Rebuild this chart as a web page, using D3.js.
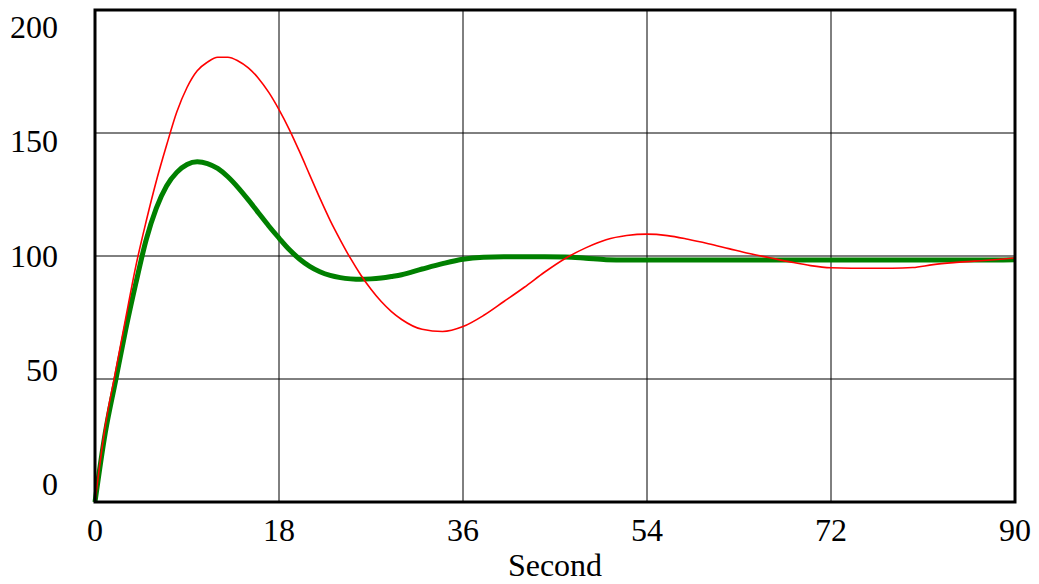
<!DOCTYPE html>
<html>
<head>
<meta charset="utf-8">
<script src="https://cdn.jsdelivr.net/npm/d3@7"></script>
<style>
    body { margin: 0; background: #fff; }
    text { font-family: "Liberation Serif", "Times New Roman", serif; font-size: 32px; fill: #000; }
</style>
</head>
<body>
<div id="chart"></div>
<script>
// Time points (seconds) shared by both runs
const times = [0, 1, 2, 3, 4, 5, 6, 7, 8, 9, 10, 11, 12, 13, 14, 15, 16, 17, 18, 19,
    20, 21, 22, 23, 24, 25, 26, 27, 28, 29, 30, 32, 34, 36, 38, 40, 42, 44, 46, 48,
    50, 52, 54, 56, 58, 60, 62, 64, 66, 68, 70, 72, 74, 76, 78, 80, 82, 84, 86, 88, 90];

// Red run: large overshoot, slow settle
const redValues = [0, 30.8, 52.8, 74.6, 96, 114, 130.5, 145, 158.5, 168.5, 175.3, 178.8, 180.8, 180.8, 179.3, 176.5, 172.2, 166.5, 159.5, 151.5,
    142.5, 133, 123.5, 114.5, 106.5, 99, 92.3, 86.5, 81.5, 77.4, 74.2, 70.2, 69.3, 71.3, 75.8, 81.5, 87.3, 93.5, 99, 103.3,
    106.6, 108.3, 108.9, 108.3, 106.8, 105, 103, 101, 99.3, 97.6, 96.1, 95.2, 95, 95, 95, 95.3, 96.5, 97.3, 97.9, 98.5, 99.2];

// Green run: damped, settles near 100
const greenValues = [0, 28, 49, 70, 89, 106.5, 119.5, 128.5, 134, 137.2, 138.3, 137.6, 135.6, 132.2, 127.8, 122.8, 117.5, 112.2, 107.3, 102.6,
    98.8, 95.8, 93.6, 92.1, 91.2, 90.7, 90.5, 90.7, 91.1, 91.7, 92.4, 94.7, 96.9, 98.7, 99.5, 99.7, 99.7, 99.7, 99.6, 99.1,
    98.5, 98.4, 98.4, 98.4, 98.4, 98.4, 98.4, 98.4, 98.4, 98.4, 98.4, 98.4, 98.4, 98.4, 98.4, 98.4, 98.4, 98.4, 98.4, 98.4, 98.5];

const xTicks = [0, 18, 36, 54, 72, 90];
const yTicks = [0, 50, 100, 150, 200];
const xTitle = 'Second';

const width = 1039;
const height = 584;
const plot = { left: 95, right: 1015, top: 10, bottom: 502 };

const x = d3.scaleLinear().domain([0, 90]).range([plot.left, plot.right]);
const y = d3.scaleLinear().domain([0, 200]).range([plot.bottom, plot.top]);
// Value labels are spread evenly between the top and bottom of the frame, not on the gridlines
const yLabel = d3.scaleLinear().domain([0, 200]).range([484, 27]);

const svg = d3.select('#chart').append('svg')
    .attr('width', width)
    .attr('height', height);

// gridlines
svg.append('g')
    .selectAll('line')
    .data(yTicks.slice(1, -1))
    .enter().append('line')
    .attr('x1', plot.left)
    .attr('x2', plot.right)
    .attr('y1', d => y(d))
    .attr('y2', d => y(d))
    .style('stroke', '#000')
    .style('stroke-width', 1);

svg.append('g')
    .selectAll('line')
    .data(xTicks.slice(1, -1))
    .enter().append('line')
    .attr('x1', d => x(d))
    .attr('x2', d => x(d))
    .attr('y1', plot.top)
    .attr('y2', plot.bottom)
    .style('stroke', '#000')
    .style('stroke-width', 1);

const series = [
    { values: greenValues, color: '#008000', width: 5 },
    { values: redValues, color: '#ff0000', width: 1.6 },
];

const line = d3.line()
    .x(d => x(d[0]))
    .y(d => y(d[1]))
    .curve(d3.curveMonotoneX);

svg.append('g')
    .selectAll('path')
    .data(series)
    .enter().append('path')
    .attr('d', s => line(times.map((t, i) => [t, s.values[i]])))
    .style('fill', 'none')
    .style('stroke', s => s.color)
    .style('stroke-width', s => s.width)
    .style('stroke-linejoin', 'round');

// frame
svg.append('rect')
    .attr('x', plot.left)
    .attr('y', plot.top)
    .attr('width', plot.right - plot.left)
    .attr('height', plot.bottom - plot.top)
    .style('fill', 'none')
    .style('stroke', '#000')
    .style('stroke-width', 3);

svg.append('g')
    .selectAll('text')
    .data(yTicks)
    .enter().append('text')
    .attr('x', 58)
    .attr('y', d => yLabel(d))
    .attr('dominant-baseline', 'central')
    .style('text-anchor', 'end')
    .text(d => d);

svg.append('g')
    .selectAll('text')
    .data(xTicks)
    .enter().append('text')
    .attr('x', d => x(d))
    .attr('y', 530)
    .attr('dominant-baseline', 'central')
    .style('text-anchor', 'middle')
    .text(d => d);

svg.append('text')
    .attr('x', (plot.left + plot.right) / 2)
    .attr('y', 565)
    .attr('dominant-baseline', 'central')
    .style('text-anchor', 'middle')
    .text(xTitle);
</script>
</body>
</html>
